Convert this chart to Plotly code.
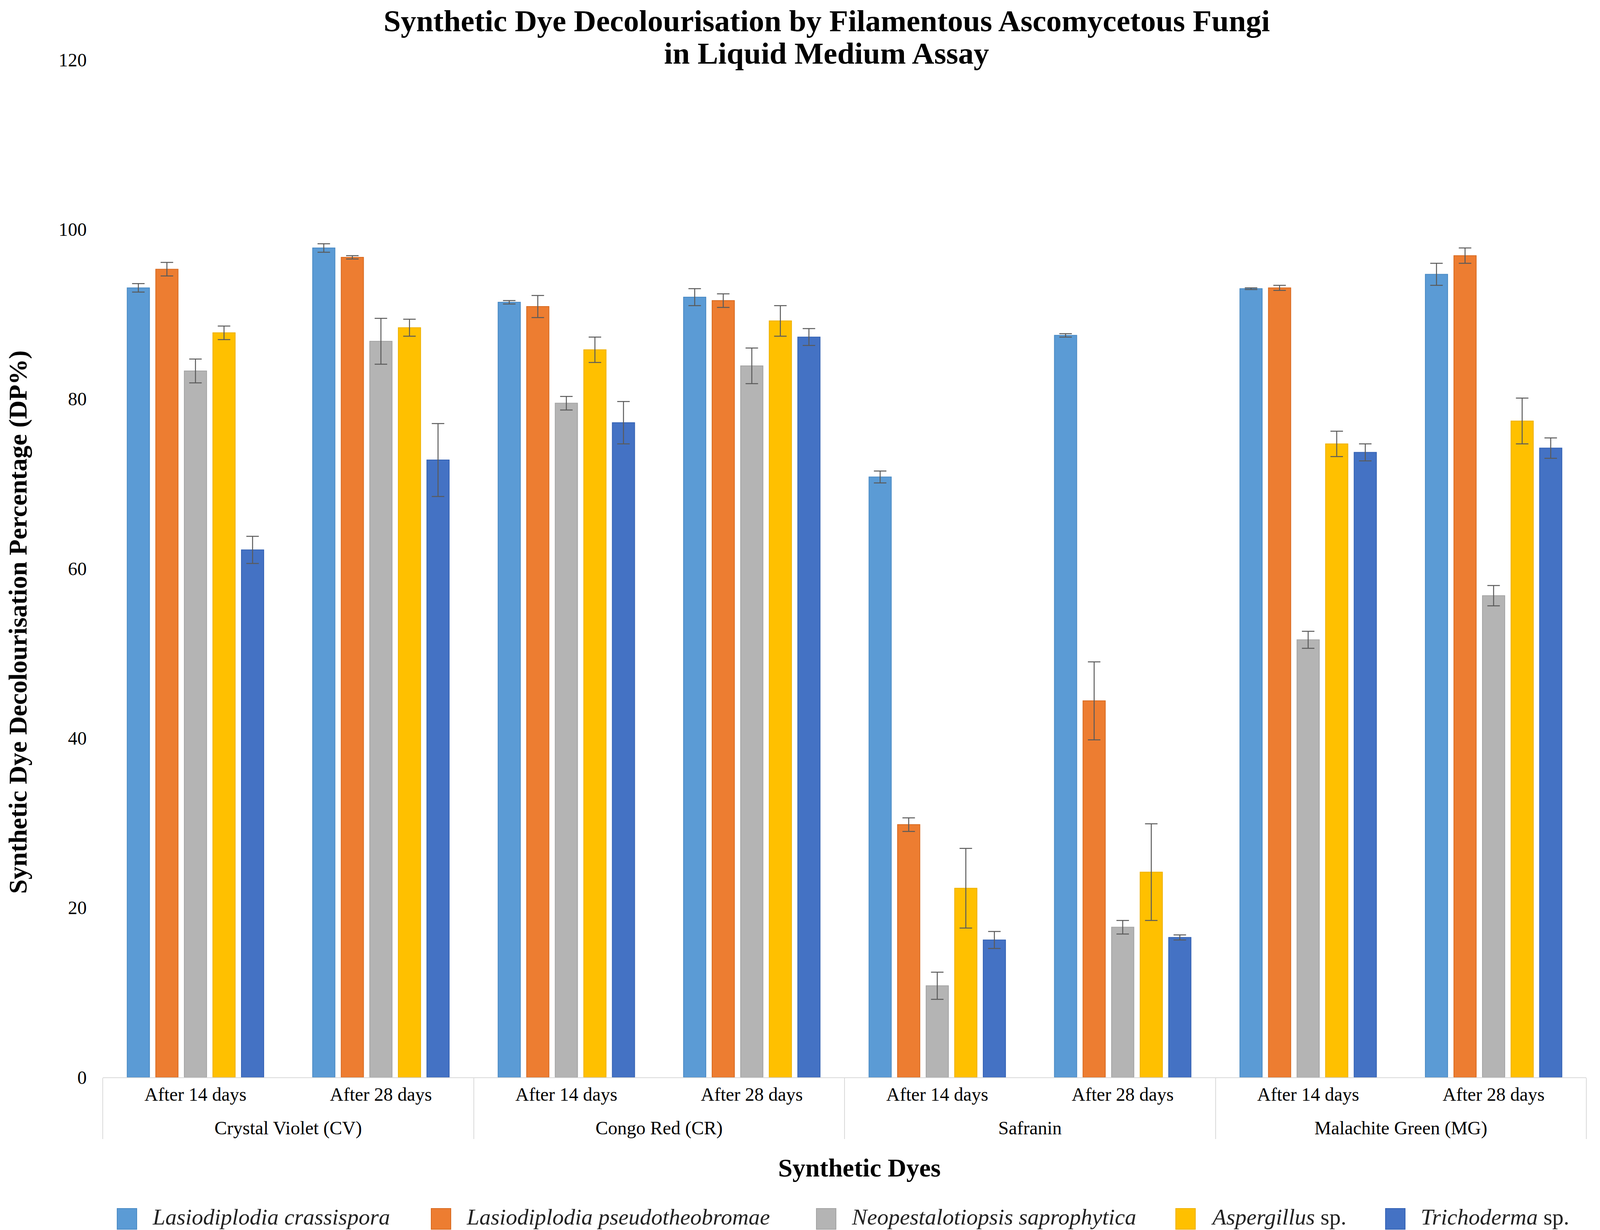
import plotly.graph_objects as go

dyes = ["Crystal Violet (CV)", "Congo Red (CR)", "Safranin", "Malachite Green (MG)"]
periods = ["After 14 days", "After 28 days"]

species = [
    "<i>Lasiodiplodia crassispora</i>",
    "<i>Lasiodiplodia pseudotheobromae</i>",
    "<i>Neopestalotiopsis saprophytica</i>",
    "<i>Aspergillus</i> sp.",
    "<i>Trichoderma</i> sp.",
]
colors = ["#5B9BD5", "#ED7D31", "#B4B4B4", "#FFC000", "#4472C4"]
edge_colors = ["#4A8AC4", "#D86A20", "#A3A3A3", "#EEB000", "#3361B3"]

# order: CV14, CV28, CR14, CR28, S14, S28, MG14, MG28
l_crassispora = [93.1, 97.8, 91.4, 92.0, 70.8, 87.5, 93.0, 94.7]
l_crassispora_err = [0.5, 0.5, 0.2, 1.0, 0.7, 0.2, 0.1, 1.3]
l_pseudo = [95.3, 96.7, 90.9, 91.6, 29.8, 44.4, 93.1, 96.9]
l_pseudo_err = [0.8, 0.2, 1.3, 0.8, 0.8, 4.6, 0.3, 0.9]
n_sapro = [83.3, 86.8, 79.5, 83.9, 10.8, 17.7, 51.6, 56.8]
n_sapro_err = [1.4, 2.7, 0.8, 2.1, 1.6, 0.8, 1.0, 1.2]
aspergillus = [87.8, 88.4, 85.8, 89.2, 22.3, 24.2, 74.7, 77.4]
aspergillus_err = [0.8, 1.0, 1.5, 1.8, 4.7, 5.7, 1.5, 2.7]
trichoderma = [62.2, 72.8, 77.2, 87.3, 16.2, 16.5, 73.7, 74.2]
trichoderma_err = [1.6, 4.3, 2.5, 1.0, 1.0, 0.3, 1.0, 1.2]

y_ticks = [0, 20, 40, 60, 80, 100, 120]

values = [l_crassispora, l_pseudo, n_sapro, aspergillus, trichoderma]
errors = [l_crassispora_err, l_pseudo_err, n_sapro_err, aspergillus_err, trichoderma_err]

FONT = "Liberation Serif"

# invisible tall spacer around the inner labels: widens the gap between the two label rows
SPACER = "<span style='font-size:76px'>&nbsp;</span>"
x_outer = [d for d in dyes for _ in periods]
x_inner = [SPACER + p + SPACER for _ in dyes for p in periods]

# ---- page geometry (pixels) ----
W, H = 4123, 3150
ML, MR, MT, MB = 255, 70, 145, 399
PW, PH = W - ML - MR, H - MT - MB
PLOT_BOTTOM = H - MB


def px_x(px):
    return (px - ML) / PW


def px_y(py):
    return (PLOT_BOTTOM - py) / PH


fig = go.Figure()
for name, vals, errs, col, ecol in zip(species, values, errors, colors, edge_colors):
    fig.add_trace(go.Bar(
        x=[x_outer, x_inner],
        y=vals,
        name=name,
        marker=dict(color=col, line=dict(color=ecol, width=2)),
        error_y=dict(type="data", array=errs, visible=True,
                     color="#5A5A5A", thickness=2.5, width=16),
        showlegend=False,
    ))

fig.update_layout(
    width=W, height=H,
    paper_bgcolor="white", plot_bgcolor="white",
    font=dict(family=FONT, size=48, color="black"),
    barmode="group",
    bargap=0.23,
    bargroupgap=0.22,
    margin=dict(l=ML, r=MR, t=MT, b=MB),
    showlegend=False,
)

fig.update_xaxes(
    type="multicategory",
    showline=True, linecolor="#D9D9D9", linewidth=2,
    showgrid=False, ticks="",
    showdividers=True, dividercolor="#D9D9D9", dividerwidth=2,
    tickfont=dict(family=FONT, size=48, color="black"),
)
fig.update_yaxes(
    range=[0, 120], tickvals=y_ticks, ticktext=[str(v) for v in y_ticks],
    showgrid=False, zeroline=False, showline=False, ticks="",
    ticklabelstandoff=40,
    tickfont=dict(family=FONT, size=48, color="black"),
)

# ---- title (two lines) ----
title_lines = ["Synthetic Dye Decolourisation by Filamentous Ascomycetous Fungi",
               "in Liquid Medium Assay"]
title_centers_y = [45, 128]
for line, cy in zip(title_lines, title_centers_y):
    fig.add_annotation(
        text=f"<b>{line}</b>", xref="paper", yref="paper",
        x=px_x(2108), y=px_y(cy), xanchor="center", yanchor="middle",
        showarrow=False, font=dict(family=FONT, size=79, color="black"),
    )

# ---- axis titles ----
fig.add_annotation(
    text="<b>Synthetic Dye Decolourisation Percentage (DP%)</b>",
    textangle=-90, xref="paper", yref="paper", x=px_x(38), y=px_y(1585),
    xanchor="center", yanchor="middle", showarrow=False,
    font=dict(family=FONT, size=66, color="black"),
)
fig.add_annotation(
    text="<b>Synthetic Dyes</b>",
    xref="paper", yref="paper", x=px_x(2192), y=px_y(2983),
    xanchor="center", yanchor="middle", showarrow=False,
    font=dict(family=FONT, size=66, color="black"),
)

# ---- legend (large square keys) ----
legend_key_left = [292, 1096, 2082, 3002, 3539]
KEY_W, KEY_TOP, KEY_BOTTOM = 50, 3087, 3140
TEXT_OFFSET, TEXT_CY = 88, 3108
for name, col, ecol, kx in zip(species, colors, edge_colors, legend_key_left):
    fig.add_shape(
        type="rect", xref="paper", yref="paper",
        x0=px_x(kx), x1=px_x(kx + KEY_W), y0=px_y(KEY_BOTTOM), y1=px_y(KEY_TOP),
        fillcolor=col, line=dict(color=ecol, width=2),
    )
    fig.add_annotation(
        text=name, xref="paper", yref="paper",
        x=px_x(kx + TEXT_OFFSET), y=px_y(TEXT_CY),
        xanchor="left", yanchor="middle", showarrow=False,
        font=dict(family=FONT, size=58, color="#222222"),
    )

fig.write_html("out.html")
